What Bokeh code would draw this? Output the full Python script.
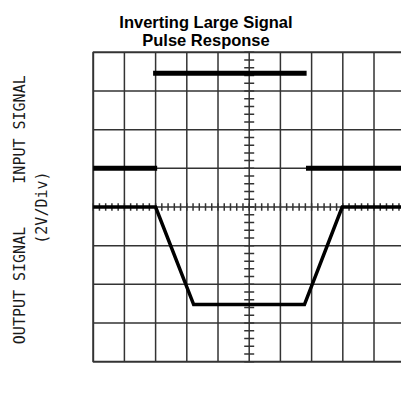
import numpy as np
from bokeh.plotting import figure
from bokeh.models import Label, Range1d
from bokeh.embed import file_html
from bokeh.resources import INLINE

# ---- data (time in divisions, signal in volts, 2 V/div) ----
out_time = [0.0, 2.0, 3.22, 6.77, 7.98, 10.0]
out_volts = [0.0, 0.0, -5.05, -5.05, 0.0, 0.0]

in_start = [0.0, 1.92, 6.82]
in_end = [2.05, 6.84, 10.0]
in_volts = [2.0, 6.92, 2.0]

x_divs = list(range(0, 11))
y_divs = [-8, -6, -4, -2, 0, 2, 4, 6, 8]

title_lines = ["Inverting Large Signal", "Pulse Response"]
ylabel_in = "INPUT SIGNAL"
ylabel_out = "OUTPUT SIGNAL"
ylabel_scale = "(2V/Div)"

GRID = "#333333"

p = figure(width=401, height=415, output_backend="svg", toolbar_location=None,
           x_axis_type=None, y_axis_type=None,
           x_range=Range1d(-2.971, 9.881), y_range=Range1d(-10.786, 10.683),
           min_border=0)
p.outline_line_color = None
p.xgrid.visible = False
p.ygrid.visible = False
p.background_fill_color = "white"
p.border_fill_color = "white"

x0, x1 = x_divs[0], x_divs[-1]
y0, y1 = y_divs[0], y_divs[-1]

# interior grid lines
p.segment(x0=x_divs[1:-1], x1=x_divs[1:-1], y0=y0, y1=y1, line_color=GRID, line_width=1.5)
p.segment(x0=x0, x1=x1, y0=y_divs[1:-1], y1=y_divs[1:-1], line_color=GRID, line_width=1.5)
# outer border
p.quad(left=x0, right=x1, bottom=y0, top=y1, fill_color=None, line_color=GRID, line_width=2)

# minor ticks on the centre axes
xt = np.arange(0, 50 + 1) * 0.2
p.segment(x0=xt, x1=xt, y0=-0.2, y1=0.2, line_color=GRID, line_width=1.5)
yt = np.arange(-20, 21) * 0.4
p.segment(x0=5 - 0.16, x1=5 + 0.16, y0=yt, y1=yt, line_color=GRID, line_width=1.5)

# input signal (horizontal segments only)
p.segment(x0=in_start, x1=in_end, y0=in_volts, y1=in_volts,
          line_color="black", line_width=5)
# output signal
p.line(out_time, out_volts, line_color="black", line_width=3.5, line_join="miter")

# title
for txt, yv in zip(title_lines, [9.55, 8.62]):
    p.add_layout(Label(x=3.615, y=yv, text=txt, text_align="center",
                       text_baseline="alphabetic", text_font="Liberation Sans",
                       text_font_style="bold", text_font_size="16.5px", text_color="black"))

# y labels
for txt, xv, yv in [(ylabel_in, -2.36, 4.01), (ylabel_out, -2.36, -4.06),
                    (ylabel_scale, -1.63, -0.03)]:
    p.add_layout(Label(x=xv, y=yv, text=txt, angle=90, angle_units="deg",
                       text_align="center", text_baseline="middle",
                       text_font="DejaVu Sans Mono", text_font_size="15px",
                       text_color="#1a1a1a"))

open("out.html", "w").write(file_html(p, INLINE))
